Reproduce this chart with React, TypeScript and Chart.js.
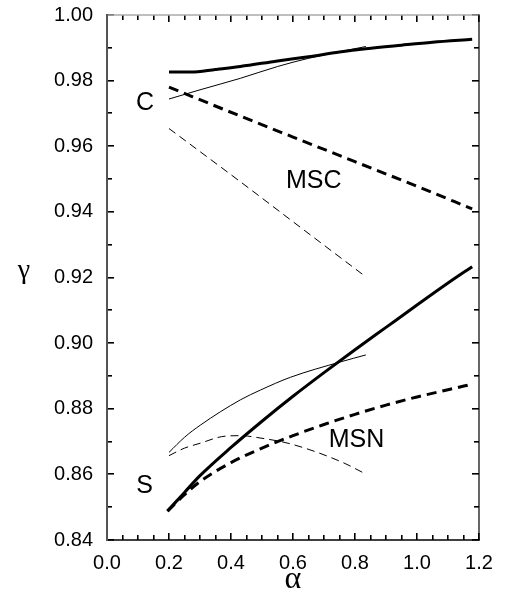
import React, { useEffect, useRef } from "react";
import { Chart, registerables } from "chart.js";

Chart.register(...registerables);

// Upper (C) curves
const cThickSolidX = [0.2, 0.27, 0.35, 0.43, 0.55, 0.65, 0.75, 0.835, 0.95, 1.05, 1.178];
const cThickSolidY = [0.9826, 0.9826, 0.9834, 0.9843, 0.986, 0.9873, 0.9887, 0.9897, 0.9908, 0.9917, 0.9926];
const cThinSolidX = [0.2, 0.3, 0.43, 0.55, 0.65, 0.75, 0.835];
const cThinSolidY = [0.9744, 0.9772, 0.9807, 0.9843, 0.9868, 0.9888, 0.9904];
const cThickDashX = [0.2, 0.43, 0.6, 0.8, 1.0, 1.178];
const cThickDashY = [0.978, 0.9692, 0.9628, 0.9553, 0.9478, 0.9409];
const cThinDashX = [0.2, 0.43, 0.6, 0.835];
const cThinDashY = [0.9654, 0.9492, 0.937, 0.9202];

// Lower (S) curves
const sThickSolidX = [0.195, 0.25, 0.3, 0.4, 0.5, 0.6, 0.7, 0.8, 0.9, 1.0, 1.1, 1.178];
const sThickSolidY = [0.8488, 0.8545, 0.8596, 0.8682, 0.8762, 0.8838, 0.891, 0.898, 0.9048, 0.9116, 0.9183, 0.9233];
const sThickDashX = [0.195, 0.25, 0.3, 0.4, 0.5, 0.6, 0.7, 0.8, 0.9, 1.0, 1.1, 1.178];
const sThickDashY = [0.8488, 0.8538, 0.8578, 0.8636, 0.868, 0.8718, 0.8752, 0.8783, 0.8811, 0.8836, 0.8858, 0.8875];
const sThinSolidX = [0.2, 0.25, 0.301, 0.43, 0.495, 0.592, 0.754, 0.835];
const sThinSolidY = [0.8667, 0.8713, 0.875, 0.8827, 0.8857, 0.8896, 0.8943, 0.8964];
const sThinDashX = [0.2, 0.25, 0.301, 0.37, 0.43, 0.5, 0.592, 0.754, 0.835];
const sThinDashY = [0.8657, 0.868, 0.8695, 0.8715, 0.8718, 0.871, 0.8693, 0.8639, 0.8601];

// Text labels
const labelTexts = ["C", "S", "MSC", "MSN"];
const labelX = [0.123, 0.121, 0.667, 0.805];
const labelY = [0.9733, 0.8564, 0.9494, 0.8705];

const xMin = 0.0, xMax = 1.2, xStep = 0.2, xMinor = 0.05;
const yMin = 0.84, yMax = 1.0, yStep = 0.02, yMinor = 0.01;
const xTitle = "α";
const yTitle = "γ";

const pts = (xs: number[], ys: number[]) => xs.map((x, i) => ({ x, y: ys[i] }));

const SANS = "'Liberation Sans', Arial, Helvetica, sans-serif";
const SERIF = "'Liberation Serif', 'DejaVu Serif', serif";

const framePlugin = {
  id: "frame",
  afterDraw(chart: any) {
    const ctx: CanvasRenderingContext2D = chart.ctx;
    const a = chart.chartArea;
    const xs = chart.scales.x, ys = chart.scales.y;
    ctx.save();
    ctx.setLineDash([]);
    ctx.fillStyle = "#000";
    // inward ticks, all four sides
    const nx = Math.round((xMax - xMin) / xMinor);
    const xEvery = Math.round(xStep / xMinor);
    for (let i = 0; i <= nx; i++) {
      const px = Math.round(xs.getPixelForValue(xMin + i * xMinor));
      const len = i % xEvery === 0 ? 7 : 5;
      ctx.fillRect(px - 1, a.bottom - len, 1.6, len);
      ctx.fillRect(px - 1, a.top, 1.6, len);
    }
    const ny = Math.round((yMax - yMin) / yMinor);
    const yEvery = Math.round(yStep / yMinor);
    for (let i = 0; i <= ny; i++) {
      const py = Math.round(ys.getPixelForValue(yMin + i * yMinor));
      const len = i % yEvery === 0 ? 7 : 5;
      ctx.fillRect(a.left, py - 1, len, 1.6);
      ctx.fillRect(a.right - len, py - 1, len, 1.6);
    }
    // frame
    ctx.lineCap = "square";
    ctx.strokeStyle = "#aaa";
    ctx.lineWidth = 1.5;
    ctx.beginPath();
    ctx.moveTo(a.left, a.top);
    ctx.lineTo(a.right, a.top);
    ctx.stroke();
    ctx.strokeStyle = "#000";
    ctx.lineWidth = 1.2;
    ctx.beginPath();
    ctx.moveTo(a.right, a.top);
    ctx.lineTo(a.right, a.bottom);
    ctx.stroke();
    ctx.lineWidth = 1.5;
    ctx.beginPath();
    ctx.moveTo(a.left, a.bottom);
    ctx.lineTo(a.right, a.bottom);
    ctx.stroke();
    ctx.strokeStyle = "#555";
    ctx.lineWidth = 2;
    ctx.beginPath();
    ctx.moveTo(a.left, a.top);
    ctx.lineTo(a.left, a.bottom);
    ctx.stroke();

    // annotations
    ctx.fillStyle = "#000";
    ctx.textAlign = "center";
    ctx.textBaseline = "middle";
    ctx.font = `25px ${SANS}`;
    labelTexts.forEach((t, i) => {
      ctx.fillText(t, xs.getPixelForValue(labelX[i]), ys.getPixelForValue(labelY[i]));
    });
    // axis titles
    ctx.font = `32px ${SERIF}`;
    ctx.fillText(xTitle, (a.left + a.right) / 2, 580);
    ctx.font = `28px ${SERIF}`;
    ctx.fillText(yTitle, 24, 271);
    ctx.restore();
  },
};

export default function App() {
  const ref = useRef<HTMLCanvasElement | null>(null);
  useEffect(() => {
    document.body.style.margin = "0";
    const canvas = ref.current!;
    const thick = 3, thin = 1;
    const ds = (data: any, w: number, dash: number[]) => ({
      data,
      borderColor: "#000",
      borderWidth: w,
      borderDash: dash,
      pointRadius: 0,
      fill: false,
      cubicInterpolationMode: "monotone" as const,
    });
    const chart = new Chart(canvas, {
      type: "line",
      data: {
        datasets: [
          ds(pts(cThickSolidX, cThickSolidY), thick, []),
          ds(pts(cThinSolidX, cThinSolidY), thin, []),
          ds(pts(cThickDashX, cThickDashY), thick, [10, 6]),
          ds(pts(cThinDashX, cThinDashY), thin, [8, 5]),
          ds(pts(sThickSolidX, sThickSolidY), thick, []),
          ds(pts(sThickDashX, sThickDashY), thick, [10, 6]),
          ds(pts(sThinSolidX, sThinSolidY), thin, []),
          ds(pts(sThinDashX, sThinDashY), thin, [8, 5]),
        ],
      },
      options: {
        animation: false,
        responsive: false,
        layout: { padding: { left: 0, top: 15, right: 26, bottom: 0 } },
        plugins: { legend: { display: false }, tooltip: { enabled: false } },
        scales: {
          x: {
            type: "linear",
            min: xMin,
            max: xMax,
            grid: { display: false, drawTicks: false },
            border: { display: false },
            ticks: {
              stepSize: xStep,
              padding: 11,
              color: "#000",
              font: { family: SANS, size: 20 },
              callback: (v: any) => Number(v).toFixed(1),
            },
            afterFit: (s: any) => {
              s.height = 56;
              s.paddingLeft = 0;
              s.paddingRight = 0;
            },
          },
          y: {
            type: "linear",
            min: yMin,
            max: yMax,
            grid: { display: false, drawTicks: false },
            border: { display: false },
            ticks: {
              stepSize: yStep,
              padding: 14,
              color: "#000",
              font: { family: SANS, size: 20 },
              callback: (v: any) => Number(v).toFixed(2),
            },
            afterFit: (s: any) => {
              s.width = 107;
              s.paddingTop = 0;
              s.paddingBottom = 0;
            },
          },
        },
      },
      plugins: [framePlugin],
    });
    return () => chart.destroy();
  }, []);
  return <canvas ref={ref} width={505} height={596} style={{ display: "block" }} />;
}
